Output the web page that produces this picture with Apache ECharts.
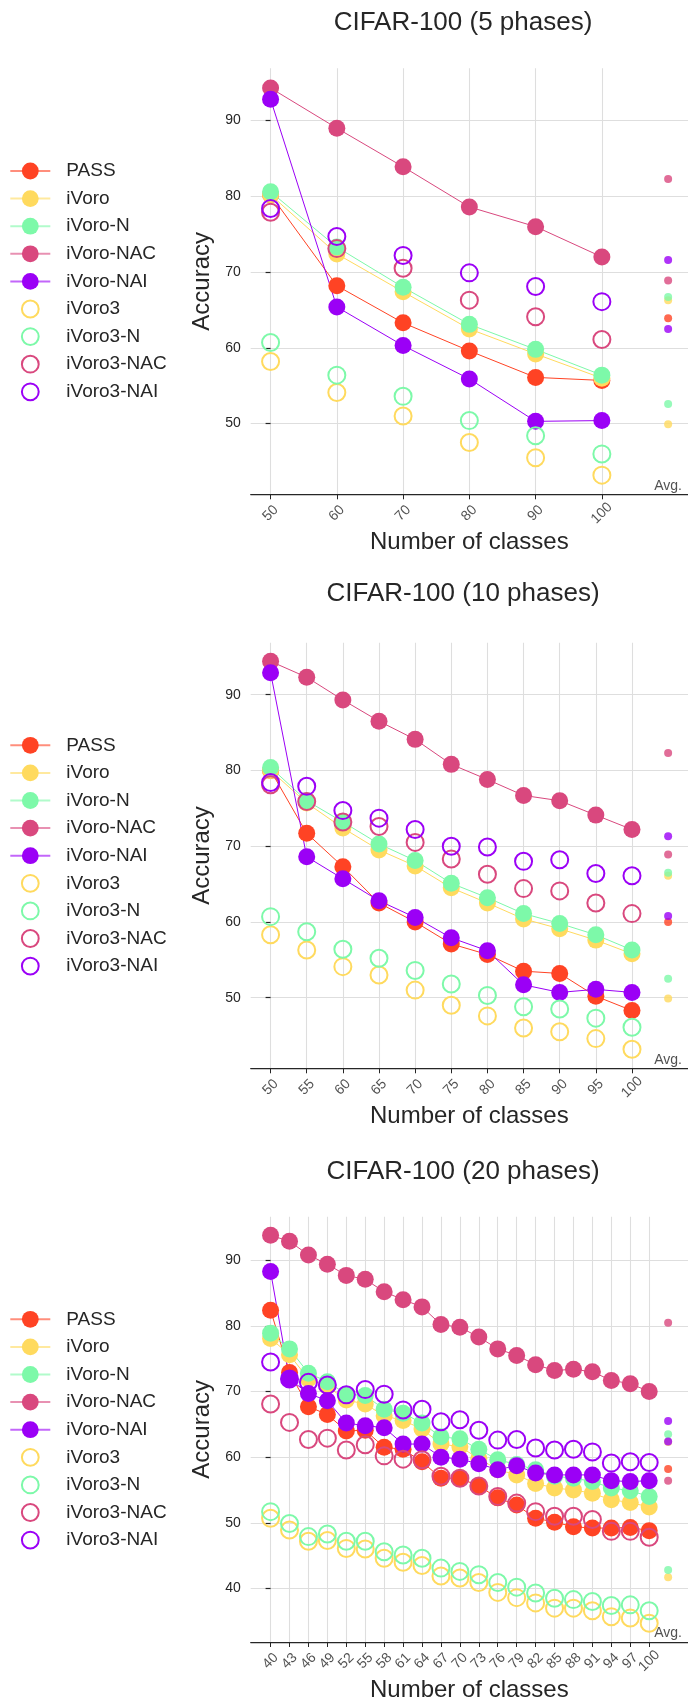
<!DOCTYPE html>
<html>
<head>
<meta charset="utf-8">
<script src="https://cdn.jsdelivr.net/npm/echarts@6/dist/echarts.min.js"></script>
<style>
html,body{margin:0;padding:0;background:#fff;}
#chart{width:688px;height:1703px;}
</style>
</head>
<body>
<div id="chart"></div>
<script>
// ---------- data ----------
const METHODS = ['PASS','iVoro','iVoro-N','iVoro-NAC','iVoro-NAI','iVoro3','iVoro3-N','iVoro3-NAC','iVoro3-NAI'];
const COLORS  = ['#FF4324','#FFDA5E','#7DF9A9','#D9487E','#9B00F6','#FFDA5E','#7DF9A9','#D9487E','#9B00F6'];
const FILLED  = [true,true,true,true,true,false,false,false,false];

// CIFAR-100 (5 phases)
const CATS_5 = ['50','60','70','80','90','100'];
const PASS_5       = [80.2, 68.2, 63.3, 59.6, 56.1, 55.7];
const IVORO_5      = [80.2, 72.4, 67.4, 62.5, 59.2, 56.0];
const IVORO_N_5    = [80.6, 73.3, 68.0, 63.1, 59.8, 56.4];
const IVORO_NAC_5  = [94.3, 89.0, 83.9, 78.6, 76.0, 72.0];
const IVORO_NAI_5  = [92.8, 65.4, 60.3, 55.9, 50.3, 50.4];
const IVORO3_5     = [58.2, 54.1, 51.0, 47.5, 45.5, 43.2];
const IVORO3_N_5   = [60.7, 56.4, 53.6, 50.4, 48.4, 46.0];
const IVORO3_NAC_5 = [77.9, 73.1, 70.5, 66.3, 64.1, 61.1];
const IVORO3_NAI_5 = [78.4, 74.7, 72.2, 69.9, 68.1, 66.1];
const AVG_5        = [63.9, 66.3, 66.7, 82.3, 62.5, 49.9, 52.6, 68.9, 71.6];
const YTICKS_5     = [50, 60, 70, 80, 90];

// CIFAR-100 (10 phases)
const CATS_10 = ['50','55','60','65','70','75','80','85','90','95','100'];
const PASS_10       = [80.0, 71.7, 67.3, 62.5, 60.0, 57.1, 55.7, 53.5, 53.2, 50.2, 48.3];
const IVORO_10      = [80.0, 75.7, 72.4, 69.5, 67.4, 64.5, 62.5, 60.4, 59.1, 57.6, 55.8];
const IVORO_N_10    = [80.4, 76.0, 73.2, 70.3, 68.1, 65.1, 63.2, 61.1, 59.8, 58.3, 56.3];
const IVORO_NAC_10  = [94.4, 92.3, 89.3, 86.5, 84.1, 80.8, 78.8, 76.7, 76.0, 74.1, 72.2];
const IVORO_NAI_10  = [92.9, 68.6, 65.7, 62.8, 60.6, 57.9, 56.2, 51.7, 50.7, 51.1, 50.7];
const IVORO3_10     = [58.3, 56.3, 54.1, 53.0, 51.0, 49.0, 47.6, 46.0, 45.5, 44.6, 43.2];
const IVORO3_N_10   = [60.7, 58.7, 56.4, 55.2, 53.6, 51.8, 50.3, 48.8, 48.5, 47.3, 46.1];
const IVORO3_NAC_10 = [78.1, 75.9, 73.2, 72.6, 70.5, 68.3, 66.3, 64.4, 64.1, 62.5, 61.1];
const IVORO3_NAI_10 = [78.4, 77.9, 74.7, 73.7, 72.2, 70.0, 69.9, 68.0, 68.2, 66.4, 66.1];
const AVG_10        = [60.0, 66.1, 66.5, 82.3, 60.8, 49.9, 52.5, 68.9, 71.3];
const YTICKS_10     = [50, 60, 70, 80, 90];

// CIFAR-100 (20 phases)
const CATS_20 = ['40','43','46','49','52','55','58','61','64','67','70','73','76','79','82','85','88','91','94','97','100'];
const PASS_20       = [82.4, 72.9, 67.7, 66.5, 64.0, 64.1, 61.5, 61.2, 59.3, 56.8, 56.8, 55.6, 53.8, 52.7, 50.7, 50.1, 49.4, 49.2, 49.2, 49.3, 48.8];
const IVORO_20      = [78.1, 75.6, 71.9, 70.8, 68.7, 68.1, 66.3, 65.6, 64.3, 62.0, 61.6, 59.8, 58.1, 57.3, 56.0, 55.3, 55.0, 54.5, 53.5, 53.1, 52.4];
const IVORO_N_20    = [78.9, 76.5, 72.8, 71.5, 69.6, 69.4, 67.3, 66.7, 65.2, 63.1, 62.8, 61.2, 59.6, 58.9, 58.1, 57.1, 56.8, 56.3, 55.3, 54.9, 54.0];
const IVORO_NAC_20  = [93.8, 92.9, 90.8, 89.4, 87.7, 87.1, 85.2, 84.0, 82.9, 80.2, 79.8, 78.3, 76.5, 75.5, 74.1, 73.2, 73.4, 73.0, 71.7, 71.2, 70.0];
const IVORO_NAI_20  = [88.3, 71.9, 69.7, 68.6, 65.2, 64.8, 64.5, 62.0, 62.0, 60.0, 59.7, 59.0, 58.1, 58.7, 57.6, 57.3, 57.3, 57.3, 56.4, 56.3, 56.4];
const IVORO3_20     = [50.7, 48.9, 47.2, 47.3, 46.1, 46.0, 44.6, 44.0, 43.5, 41.9, 41.6, 40.9, 39.4, 38.6, 37.8, 37.0, 37.0, 36.6, 35.7, 35.5, 34.7];
const IVORO3_N_20   = [51.7, 49.9, 47.9, 48.3, 47.2, 47.2, 45.6, 45.1, 44.6, 43.1, 42.6, 42.1, 40.9, 40.2, 39.3, 38.5, 38.3, 38.0, 37.4, 37.5, 36.6];
const IVORO3_NAC_20 = [68.1, 65.3, 62.7, 62.9, 61.1, 61.9, 60.2, 59.7, 59.6, 57.1, 56.8, 55.6, 54.0, 53.0, 51.7, 51.0, 51.0, 50.5, 48.7, 48.7, 47.8];
const IVORO3_NAI_20 = [74.5, 71.9, 71.4, 71.0, 69.5, 70.3, 69.6, 67.2, 67.3, 65.4, 65.7, 64.1, 62.6, 62.7, 61.4, 61.1, 61.2, 60.8, 59.1, 59.3, 59.2];
const AVG_20        = [58.2, 62.3, 63.5, 80.5, 62.4, 41.7, 42.8, 56.4, 65.5];
const YTICKS_20     = [40, 50, 60, 70, 80, 90];

// ---------- layout ----------
const FONT = 'Liberation Sans, Arial, sans-serif';
const INK = '#262626';
const GRID_LEFT = 250.7;

const panels = [
  {title:'CIFAR-100 (5 phases)', cats:CATS_5,
   values:[PASS_5,IVORO_5,IVORO_N_5,IVORO_NAC_5,IVORO_NAI_5,IVORO3_5,IVORO3_N_5,IVORO3_NAC_5,IVORO3_NAI_5],
   avg:AVG_5, yticks:YTICKS_5, ymin:40.67, ymax:96.9, top:68.3, height:426, titleTop:10, legendTop:161.5},
  {title:'CIFAR-100 (10 phases)', cats:CATS_10,
   values:[PASS_10,IVORO_10,IVORO_N_10,IVORO_NAC_10,IVORO_NAI_10,IVORO3_10,IVORO3_N_10,IVORO3_NAC_10,IVORO3_NAI_10],
   avg:AVG_10, yticks:YTICKS_10, ymin:40.68, ymax:96.86, top:642.7, height:425.6, titleTop:581, legendTop:735.8},
  {title:'CIFAR-100 (20 phases)', cats:CATS_20,
   values:[PASS_20,IVORO_20,IVORO_N_20,IVORO_NAC_20,IVORO_NAI_20,IVORO3_20,IVORO3_N_20,IVORO3_NAC_20,IVORO3_NAI_20],
   avg:AVG_20, yticks:YTICKS_20, ymin:31.84, ymax:96.64, top:1216.7, height:425.6, titleTop:1159, legendTop:1309.8}
];

const option = {
  animation:false,
  backgroundColor:'#fff',
  textStyle:{fontFamily:FONT},
  title:[], legend:[], grid:[], xAxis:[], yAxis:[], series:[]
};

const legendData = METHODS.map((m,k)=> FILLED[k]
  ? {name:m, itemStyle:{color:COLORS[k], borderWidth:0}, lineStyle:{color:COLORS[k], width:2, opacity:0.6}}
  : {name:m, itemStyle:{color:'rgba(0,0,0,0)', borderColor:COLORS[k], borderWidth:2}, lineStyle:{width:0}});

panels.forEach((p,pi)=>{
  const n = p.cats.length;              // position of "Avg."
  const pad = 0.05*n;
  const idx = p.cats.map((c,i)=>i);

  option.title.push({
    text:p.title, left:463, top:p.titleTop, textAlign:'center', padding:0,
    textStyle:{fontFamily:FONT, fontSize:26, fontWeight:'normal', color:INK}
  });
  option.legend.push({
    orient:'vertical', left:9.3, top:p.legendTop, padding:0,
    itemWidth:40, itemHeight:21, itemGap:8.6, selectedMode:false,
    data:legendData,
    textStyle:{fontFamily:FONT, fontSize:19, color:INK, padding:[0,0,0,11]}
  });
  option.grid.push({left:GRID_LEFT, right:0, top:p.top, height:p.height});
  option.xAxis.push({
    type:'value', gridIndex:pi, min:-pad, max:n+pad,
    axisLine:{show:true, onZero:false, lineStyle:{color:INK, width:1.25}},
    axisTick:{show:true, customValues:idx, length:5, lineStyle:{color:INK, width:1}},
    // tick labels are drawn by the label series below (rotated, centred like the reference)
    axisLabel:{show:false},
    splitLine:{show:true, lineStyle:{color:'#dedede', width:1.1}},
    name:'Number of classes', nameLocation:'middle', nameGap:36,
    nameTextStyle:{fontFamily:FONT, fontSize:24, color:INK}
  });
  option.yAxis.push({
    type:'value', gridIndex:pi, min:p.ymin, max:p.ymax,
    axisLine:{show:true, lineStyle:{color:'rgba(0,0,0,0)', width:0}},
    axisTick:{show:true, customValues:p.yticks, length:5, lineStyle:{color:INK, width:1.2}},
    axisLabel:{show:true, customValues:p.yticks, margin:10, showMinLabel:true, showMaxLabel:true,
      fontFamily:FONT, fontSize:14, color:INK},
    splitLine:{show:true, lineStyle:{color:'#dedede', width:1.1}},
    name:'Accuracy', nameLocation:'middle', nameGap:31,
    nameTextStyle:{fontFamily:FONT, fontSize:24, color:INK}
  });

  METHODS.forEach((m,k)=>{
    const data = p.values[k].map((v,i)=>[i,v]);
    option.series.push({
      type:'line', name:m, xAxisIndex:pi, yAxisIndex:pi, data:data,
      symbol:'circle', symbolSize:17, showSymbol:true, showAllSymbol:true,
      lineStyle: FILLED[k] ? {color:COLORS[k], width:1} : {width:0, opacity:0},
      itemStyle: FILLED[k] ? {color:COLORS[k], borderWidth:0}
                           : {color:'rgba(0,0,0,0)', borderColor:COLORS[k], borderWidth:2},
      emphasis:{disabled:true}, silent:true
    });
  });

  option.series.push({
    type:'scatter', name:'avg'+pi, xAxisIndex:pi, yAxisIndex:pi,
    symbol:'circle', symbolSize:8, silent:true,
    data:p.avg.map((v,k)=>({value:[n,v], itemStyle:{color:COLORS[k]}}))
  });
  option.series.push({
    type:'scatter', name:'avglabel'+pi, xAxisIndex:pi, yAxisIndex:pi,
    symbolSize:1, itemStyle:{color:'rgba(0,0,0,0)'}, silent:true,
    label:{show:true, position:'top', distance:1, formatter:'Avg.', fontFamily:FONT, fontSize:14, color:INK},
    data:[[n, p.ymin]]
  });
  // x tick labels, placed through the axis scale at the bottom edge
  option.series.push({
    type:'scatter', name:'xticklabels'+pi, xAxisIndex:pi, yAxisIndex:pi,
    symbolSize:1, itemStyle:{color:'rgba(0,0,0,0)'}, silent:true, clip:false,
    label:{show:true, position:[0.5,19.5], rotate:45, align:'center', verticalAlign:'middle',
      formatter:(d)=>p.cats[d.dataIndex], fontFamily:FONT, fontSize:14, color:INK},
    labelLayout:{hideOverlap:false},
    data:idx.map(i=>[i, p.ymin])
  });
});

const chart = echarts.init(document.getElementById('chart'), null, {renderer:'canvas'});
chart.setOption(option);
</script>
</body>
</html>
